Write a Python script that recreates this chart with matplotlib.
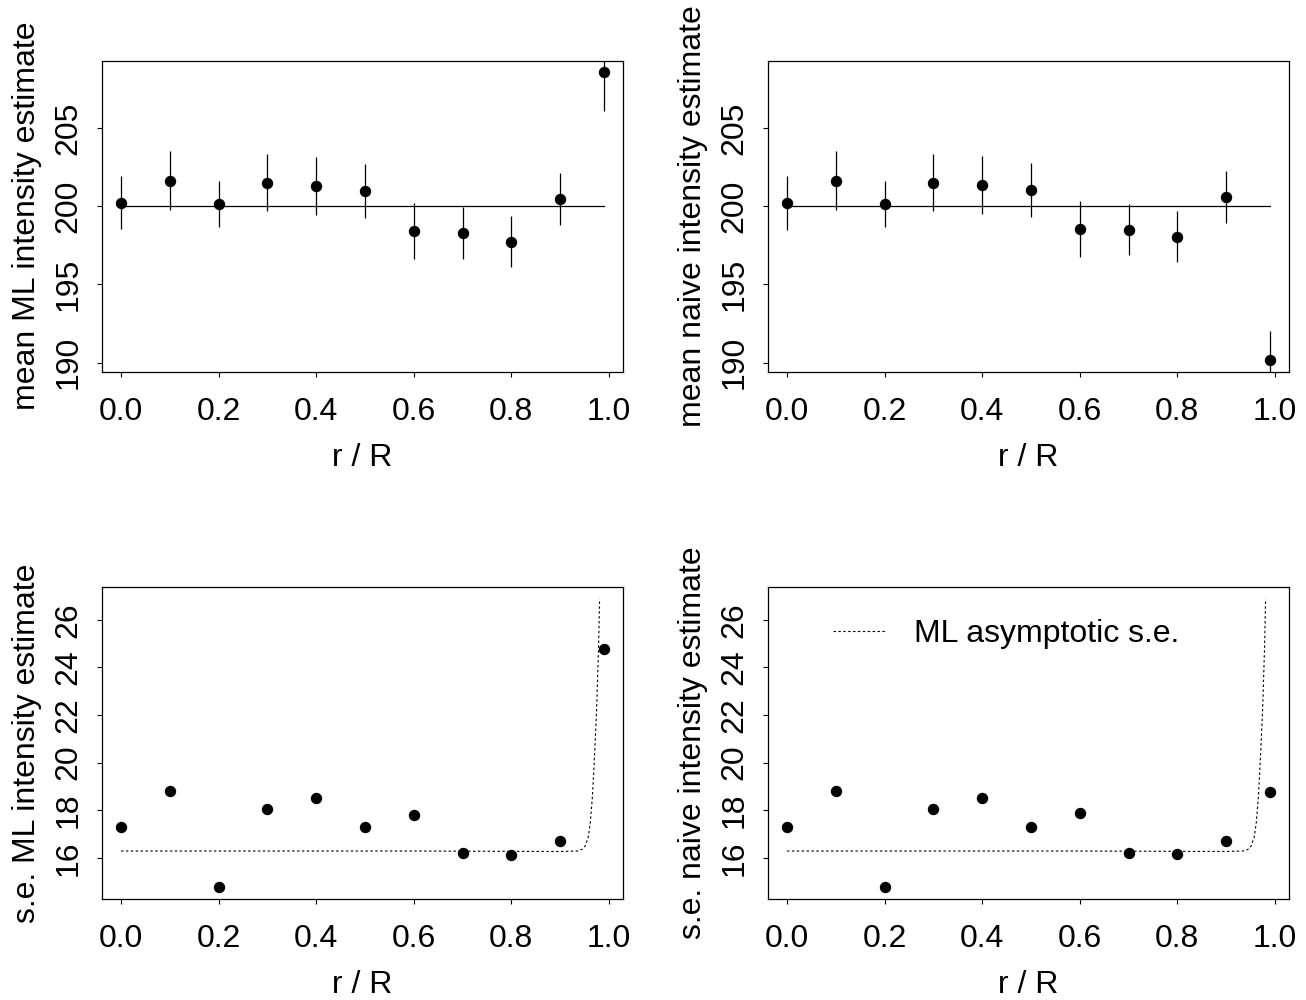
#!/usr/bin/env python
# -*- coding: utf-8 -*-

import matplotlib
matplotlib.use('Agg')
import matplotlib.pyplot as plt
import numpy as np

# Data
r_over_R       = [0.0, 0.1, 0.2, 0.3, 0.4, 0.5, 0.6, 0.7, 0.8, 0.9, 0.99]
true_intensity = 200

ml_mean     = [200.24, 201.65, 200.15, 201.52, 201.33, 201.00, 198.44, 198.31, 197.74, 200.49, 208.60]
ml_err      = [1.71, 1.90, 1.49, 1.84, 1.85, 1.75, 1.79, 1.65, 1.63, 1.65, 2.50]
naive_mean  = [200.24, 201.65, 200.17, 201.52, 201.39, 201.07, 198.57, 198.51, 198.06, 200.62, 190.15]
naive_err   = [1.72, 1.90, 1.49, 1.83, 1.85, 1.74, 1.80, 1.65, 1.63, 1.67, 1.87]

ml_se       = [17.28, 18.79, 14.76, 18.06, 18.50, 17.28, 17.81, 16.21, 16.14, 16.69, 24.78]
naive_se    = [17.28, 18.79, 14.76, 18.06, 18.50, 17.28, 17.87, 16.21, 16.18, 16.69, 18.75]

# ML asymptotic s.e. curve
asym_x  = [0.0, 0.60, 0.90, 0.935, 0.945, 0.952, 0.958, 0.962, 0.966, 0.969, 0.972, 0.975, 0.977, 0.979, 0.981]
asym_se = [16.29, 16.29, 16.27, 16.29, 16.36, 16.52, 16.90, 17.50, 18.50, 19.60, 20.90, 22.30, 23.60, 24.90, 26.88]

x_ticks = [0.0, 0.2, 0.4, 0.6, 0.8, 1.0]
x_tick_labels = ['0.0', '0.2', '0.4', '0.6', '0.8', '1.0']
mean_ticks = [190, 195, 200, 205]
se_ticks   = [16, 18, 20, 22, 24, 26]

# Constants
W, H     = 1306, 1000
DPI      = 100
FONTSIZE = 23

plt.rcParams['font.family'] = ['Liberation Sans', 'DejaVu Sans']


def r_range(values):
    lo, hi = min(values), max(values)
    pad = 0.04 * (hi - lo)
    return lo - pad, hi + pad


def style_axes(ax, yticks, ylabel, ylim):
    ax.set_xlim(r_range(r_over_R))
    ax.set_ylim(ylim)
    ax.set_xticks(x_ticks)
    ax.set_xticklabels(x_tick_labels)
    ax.set_yticks(yticks)
    ax.set_yticklabels([str(t) for t in yticks], rotation=90, va='center')
    ax.tick_params(direction='out', length=3.3, width=0.8, labelsize=FONTSIZE, color='black')
    ax.tick_params(axis='x', pad=15)
    ax.tick_params(axis='y', pad=10)
    for sp in ax.spines.values():
        sp.set_linewidth(0.9)
    ax.set_xlabel('r / R', fontsize=FONTSIZE, labelpad=11.5)
    ax.set_ylabel(ylabel, fontsize=FONTSIZE, labelpad=8)


def px_axes(fig, left, right, top, bottom):
    return fig.add_axes([left / W, 1 - bottom / H, (right - left) / W, (bottom - top) / H])


fig = plt.figure(figsize=(W / DPI, H / DPI), dpi=DPI)

ax_tl = px_axes(fig, 101.7, 623.3, 60.7, 371.7)
ax_tr = px_axes(fig, 767.7, 1289.3, 60.7, 371.7)
ax_bl = px_axes(fig, 101.7, 623.3, 587.3, 899.0)
ax_br = px_axes(fig, 767.7, 1289.3, 587.3, 899.0)

mean_lim = r_range(ml_mean + naive_mean)
se_lim   = r_range(ml_se + naive_se + asym_se)

# Top row: means with error bars
for ax, mean, err, lab in [(ax_tl, ml_mean, ml_err, 'mean ML intensity estimate'),
                           (ax_tr, naive_mean, naive_err, 'mean naive intensity estimate')]:
    ax.plot([r_over_R[0], r_over_R[-1]], [true_intensity, true_intensity], color='black', lw=0.9)
    ax.errorbar(r_over_R, mean, yerr=err, fmt='o', color='black', ms=7.2,
                elinewidth=0.9, capsize=0)
    style_axes(ax, mean_ticks, lab, mean_lim)

# Bottom row: standard errors
for ax, se, lab in [(ax_bl, ml_se, 's.e. ML intensity estimate'),
                    (ax_br, naive_se, 's.e. naive intensity estimate')]:
    ax.plot(asym_x, asym_se, color='black', lw=0.8, dashes=(2.2, 2.2), label='ML asymptotic s.e.')
    ax.plot(r_over_R, se, 'o', color='black', ms=7.2)
    style_axes(ax, se_ticks, lab, se_lim)

ax_br.legend(loc='upper left', bbox_to_anchor=(0.07, 0.99), frameon=False, fontsize=FONTSIZE,
             handlelength=1.65, handletextpad=0.9)

fig.savefig('out.png', dpi=DPI)
